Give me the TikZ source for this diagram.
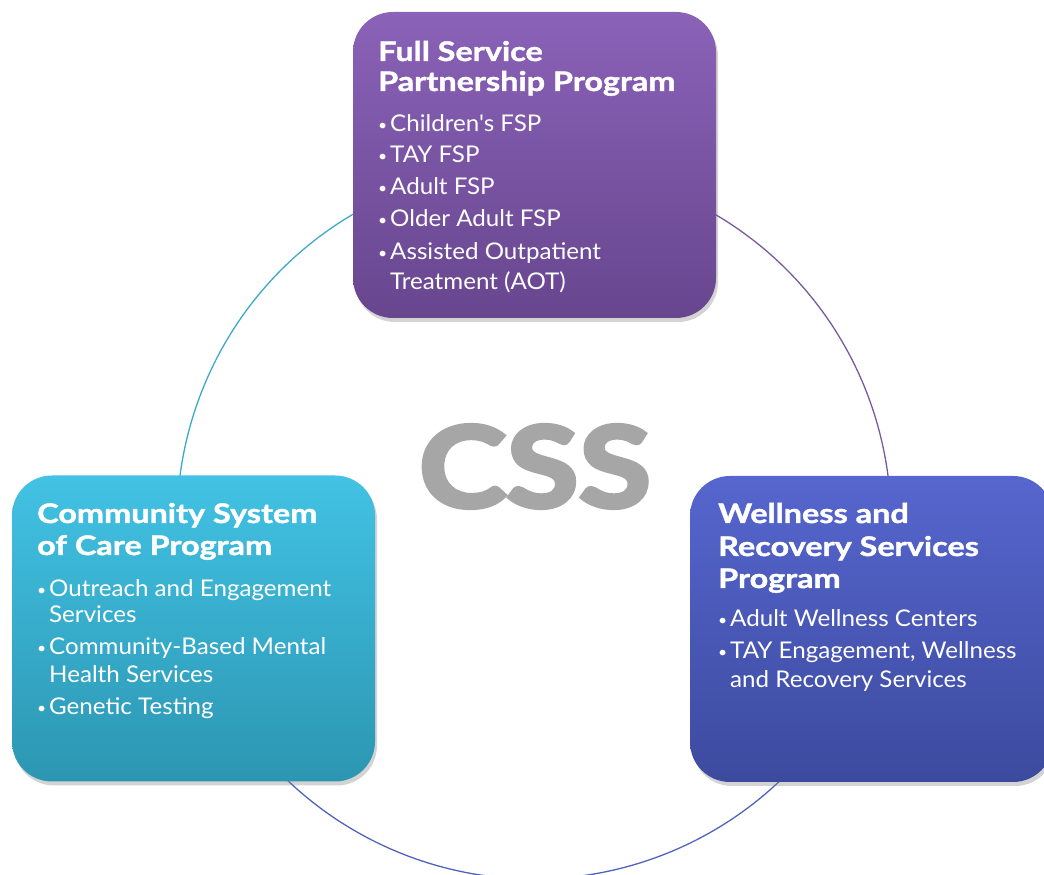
\documentclass[tikz,border=0pt]{standalone}
\usepackage{fontspec}
\setmainfont{Lato}
\newfontfamily\cssfont{Lato}[FakeStretch=1.18, BoldFeatures={FakeBold=4}]
\newfontfamily\ttlfont{Lato}[FakeStretch=1.2, BoldFeatures={FakeBold=1.5}]
\newfontfamily\itmfont{Lato}[FakeStretch=1.05]
\usetikzlibrary{shadows,calc}
\definecolor{purT}{RGB}{138,98,184}
\definecolor{purB}{RGB}{104,70,142}
\definecolor{teaT}{RGB}{66,194,228}
\definecolor{teaB}{RGB}{44,150,178}
\definecolor{bluT}{RGB}{86,102,206}
\definecolor{bluB}{RGB}{60,74,158}
\definecolor{arcTeal}{RGB}{60,170,198}
\definecolor{arcPur}{RGB}{120,90,160}
\definecolor{arcBlue}{RGB}{80,98,190}
\definecolor{cssgray}{RGB}{166,166,166}
\newcommand{\bul}{\makebox[12pt][l]{\raisebox{1.5pt}{\fontsize{15}{15}\selectfont •}}}
\begin{document}
\begin{tikzpicture}[x=1pt,y=1pt,
  box/.style={rectangle, rounded corners=40pt, minimum width=363pt, minimum height=306pt,
    inner sep=0pt, drop shadow={shadow xshift=2pt, shadow yshift=-4pt, opacity=0.35}},
  ttl/.style={anchor=base west, inner sep=0pt, text=white, font=\ttlfont\bfseries\fontsize{27}{31}\selectfont},
  itm/.style={anchor=base west, inner sep=0pt, text=white, font=\itmfont\fontsize{23}{27}\selectfont},
  ring/.style={line width=1.3pt}]
\useasboundingbox (0,0) rectangle (1044,875);
% ring
\coordinate (ctr) at (534,353);
\coordinate (pL) at ($(ctr)+(120:357)$);
\coordinate (pBL) at ($(ctr)+(200:357)$);
\coordinate (pBR) at ($(ctr)+(330:357)$);
\draw[ring, arcTeal] (pL) arc[start angle=120, end angle=200, radius=357];
\draw[ring, arcBlue] (pBL) arc[start angle=200, end angle=330, radius=357];
\draw[ring, arcPur] (pBR) arc[start angle=-30, end angle=60, radius=357];
% CSS
\node[inner sep=0pt, text=cssgray, font=\cssfont\bfseries\fontsize{112}{112}\selectfont, anchor=base] (css) at (535,368) {CSS};
% boxes
\node[box, top color=purT, bottom color=purB] (fsp) at (534.5,710) {};
\node[box, top color=teaT, bottom color=teaB] (csc) at (193.5,246.5) {};
\begin{scope}
\clip (0,0) rectangle (1044,875);
\node[box, top color=bluT, bottom color=bluB] (wrs) at (871.5,246) {};
\end{scope}
% FSP text
\node[ttl] (f1) at (378,814) {Full Service};
\node[ttl] (f2) at (378,784) {Partnership Program};
\node[itm] (f3) at (378,743) {\bul Children{\char"0027}s FSP};
\node[itm] (f4) at (378,712) {\bul TAY FSP};
\node[itm] (f5) at (378,680) {\bul Adult FSP};
\node[itm] (f6) at (378,648) {\bul Older Adult FSP};
\node[itm] (f7) at (378,615) {\bul Assisted Outpatient};
\node[itm] (f8) at (390,585) {Treatment (AOT)};
% CSC text
\node[ttl] (c1) at (37,352) {Community System};
\node[ttl] (c2) at (37,320) {of Care Program};
\node[itm] (c3) at (37,278) {\bul Outreach and Engagement};
\node[itm] (c4) at (49,252) {Services};
\node[itm] (c5) at (37,220) {\bul Community-Based Mental};
\node[itm] (c6) at (49,192) {Health Services};
\node[itm] (c7) at (37,160) {\bul Genetic Testing};
% WRS text
\node[ttl] (w1) at (718,352) {Wellness and};
\node[ttl] (w2) at (718,319) {Recovery Services};
\node[ttl] (w3) at (718,287) {Program};
\node[itm] (w4) at (718,248) {\bul Adult Wellness Centers};
\node[itm] (w5) at (718,216) {\bul TAY Engagement, Wellness};
\node[itm] (w6) at (730,187) {and Recovery Services};
\end{tikzpicture}
\end{document}
